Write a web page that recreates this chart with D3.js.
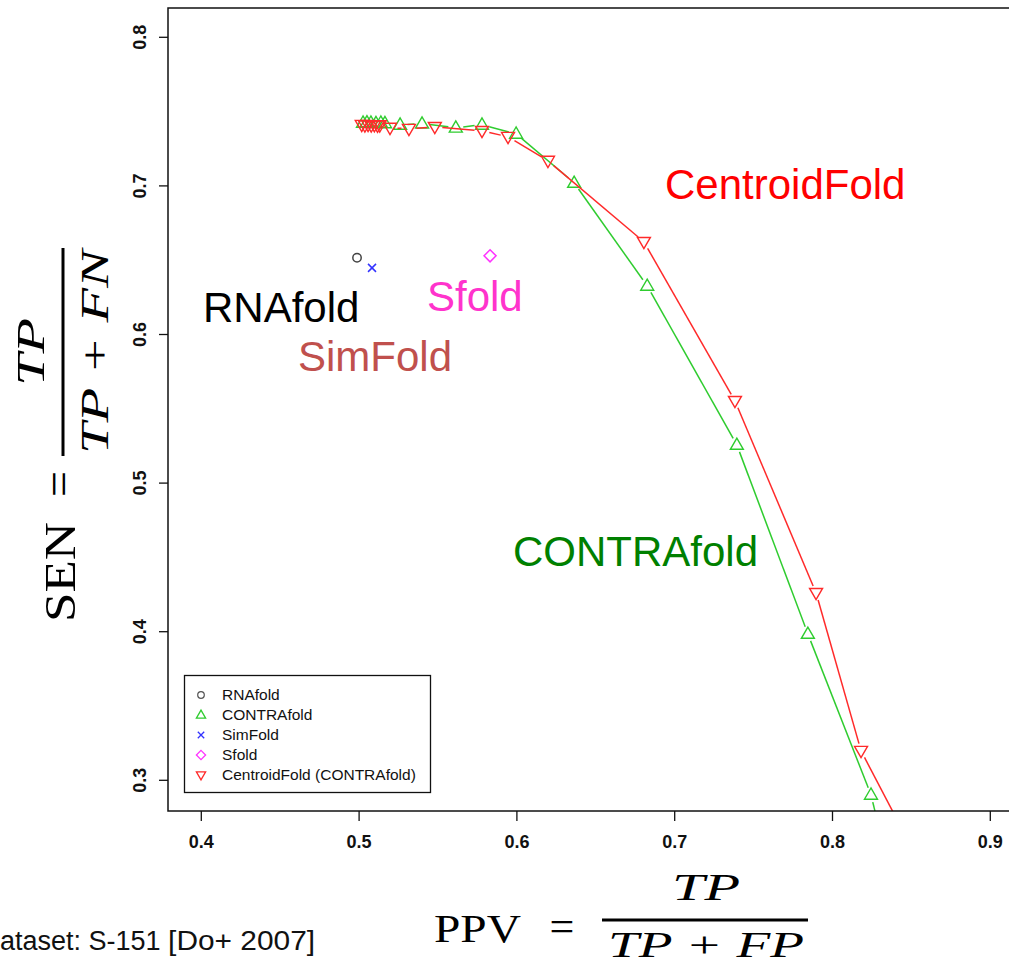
<!DOCTYPE html>
<html>
<head>
<meta charset="utf-8">
<script src="https://cdn.jsdelivr.net/npm/d3@7"></script>
<style>
  body { margin: 0; background: #fff; }
  svg { display: block; }
</style>
</head>
<body>
<div id="chart"></div>
<script>
// ticks
const xTicks = [0.4, 0.5, 0.6, 0.7, 0.8, 0.9];
const yTicks = [0.3, 0.4, 0.5, 0.6, 0.7, 0.8];

// CONTRAfold curve (PPV, SEN)
const contraPPV = [0.5028, 0.5053, 0.5078, 0.5110, 0.5141, 0.5167, 0.5263, 0.5402, 0.5616, 0.5782, 0.5998, 0.6366, 0.6829, 0.7397, 0.7847, 0.8247, 0.8440];
const contraSEN = [0.7421, 0.7424, 0.7421, 0.7419, 0.7421, 0.7418, 0.7408, 0.7415, 0.7388, 0.7408, 0.7347, 0.7017, 0.6324, 0.5254, 0.3982, 0.2899, 0.2060];

// CentroidFold (CONTRAfold) curve
const centroidPPV = [0.5020, 0.5040, 0.5060, 0.5080, 0.5100, 0.5120, 0.5134, 0.5199, 0.5319, 0.5483, 0.5782, 0.5947, 0.6200, 0.6808, 0.7385, 0.7899, 0.8184, 0.8610];
const centroidSEN = [0.7408, 0.7405, 0.7408, 0.7404, 0.7406, 0.7403, 0.7405, 0.7388, 0.7381, 0.7394, 0.7367, 0.7327, 0.7166, 0.6620, 0.5550, 0.4258, 0.3195, 0.2330];

// single tools
const singleNames = ["RNAfold", "SimFold", "Sfold"];
const singlePPV = [0.499, 0.5085, 0.5833];
const singleSEN = [0.6513, 0.6445, 0.6526];

const legendLabels = ["RNAfold", "CONTRAfold", "SimFold", "Sfold", "CentroidFold (CONTRAfold)"];

const W = 1009, H = 966;
const box = { left: 168, top: 8, right: 1016, bottom: 811 };

const svg = d3.select("#chart").append("svg")
    .attr("width", W)
    .attr("height", H);

const x = d3.scaleLinear().domain([0.4, 0.9]).range([200.8, 989.8]);
const y = d3.scaleLinear().domain([0.3, 0.8]).range([779.8, 36.8]);

const GREEN = "#2fcc2f", RED = "#ff2a2a", BLUE = "#3333ff", MAGENTA = "#ff33ff";

// marker shapes
function triUp(s) { return `M0,${-s * 1.05}L${-s},${s * 0.68}L${s},${s * 0.68}Z`; }
function triDown(s) { return `M0,${s * 1.05}L${-s},${-s * 0.68}L${s},${-s * 0.68}Z`; }
function diamond(s) { return `M0,${-s}L${s},0L0,${s}L${-s},0Z`; }
function cross(s) { return `M${-s},${-s}L${s},${s}M${-s},${s}L${s},${-s}`; }

svg.append("clipPath").attr("id", "plotclip")
    .append("rect")
    .attr("x", box.left).attr("y", box.top)
    .attr("width", box.right - box.left).attr("height", box.bottom - box.top);

const plot = svg.append("g").attr("clip-path", "url(#plotclip)");

// R type="b": segments with gaps round every point
function drawSeries(px, py, color, shape) {
    const pts = px.map((v, i) => [x(v), y(py[i])]);
    const gap = 7.5;
    const segs = [];
    for (let i = 0; i < pts.length - 1; i++) {
        const [x0, y0] = pts[i], [x1, y1] = pts[i + 1];
        const len = Math.hypot(x1 - x0, y1 - y0);
        if (len <= 2 * gap) continue;
        const ux = (x1 - x0) / len, uy = (y1 - y0) / len;
        segs.push([[x0 + ux * gap, y0 + uy * gap], [x1 - ux * gap, y1 - uy * gap]]);
    }
    plot.selectAll(null)
        .data(segs)
        .enter().append("path")
        .attr("d", d => d3.line()(d))
        .attr("fill", "none")
        .attr("stroke", color)
        .attr("stroke-width", 1.5);

    plot.selectAll(null)
        .data(pts)
        .enter().append("path")
        .attr("transform", d => `translate(${d[0]},${d[1]})`)
        .attr("d", shape(6.5))
        .attr("fill", "none")
        .attr("stroke", color)
        .attr("stroke-width", 1.4);
}

drawSeries(contraPPV, contraSEN, GREEN, triUp);
drawSeries(centroidPPV, centroidSEN, RED, triDown);

// single points
plot.append("circle")
    .attr("cx", x(singlePPV[0])).attr("cy", y(singleSEN[0]))
    .attr("r", 4.2)
    .attr("fill", "none").attr("stroke", "#444").attr("stroke-width", 1.5);
plot.append("path")
    .attr("transform", `translate(${x(singlePPV[1])},${y(singleSEN[1])})`)
    .attr("d", cross(4))
    .attr("stroke", BLUE).attr("stroke-width", 1.5);
plot.append("path")
    .attr("transform", `translate(${x(singlePPV[2])},${y(singleSEN[2])})`)
    .attr("d", diamond(6))
    .attr("fill", "none").attr("stroke", MAGENTA).attr("stroke-width", 1.5);

// box
svg.append("rect")
    .attr("x", box.left).attr("y", box.top)
    .attr("width", box.right - box.left).attr("height", box.bottom - box.top)
    .attr("fill", "none").attr("stroke", "#111").attr("stroke-width", 1.5);

// axes
const tickFont = "'Liberation Sans', Arial, sans-serif";
const xAxis = svg.append("g")
    .attr("transform", `translate(0,${box.bottom})`)
    .call(d3.axisBottom(x).tickValues(xTicks).tickSize(10).tickPadding(14).tickFormat(d3.format(".1f")));
xAxis.select(".domain").remove();
xAxis.selectAll("line").attr("stroke", "#111").attr("stroke-width", 1.3);
xAxis.selectAll("text")
    .attr("fill", "#111")
    .style("font-family", tickFont)
    .style("font-size", "18px").style("font-weight", "bold");

const yAxis = svg.append("g")
    .attr("transform", `translate(${box.left},0)`)
    .call(d3.axisLeft(y).tickValues(yTicks).tickSize(9).tickFormat(d3.format(".1f")));
yAxis.select(".domain").remove();
yAxis.selectAll("line").attr("stroke", "#111").attr("stroke-width", 1.3);
yAxis.selectAll("text")
    .attr("x", null).attr("dy", null)
    .attr("text-anchor", "middle")
    .attr("transform", "translate(-22,0) rotate(-90)")
    .attr("fill", "#111")
    .style("font-family", tickFont)
    .style("font-size", "18px").style("font-weight", "bold");

// big labels in the plot
const labelFont = "'Liberation Sans', Arial, sans-serif";
const bigLabels = [
    { t: "CentroidFold", x: 665, y: 199, c: "#ff0000" },
    { t: "CONTRAfold", x: 513, y: 566, c: "#008000" },
    { t: "RNAfold", x: 203, y: 322, c: "#000000" },
    { t: "SimFold", x: 298, y: 371, c: "#c0504d" },
    { t: "Sfold", x: 427, y: 311, c: "#ff33cc" }
];
svg.selectAll(".biglabel")
    .data(bigLabels)
    .enter().append("text")
    .attr("class", "biglabel")
    .attr("x", d => d.x).attr("y", d => d.y)
    .attr("fill", d => d.c)
    .style("font-family", labelFont)
    .style("font-size", "42px")
    .text(d => d.t);

// legend
const legend = svg.append("g");
legend.append("rect")
    .attr("x", 184.5).attr("y", 675.5).attr("width", 246).attr("height", 117)
    .attr("fill", "#fff").attr("stroke", "#111").attr("stroke-width", 1.3);
const legendShapes = [
    { d: null, c: "#555" },
    { d: triUp(4.6), c: GREEN },
    { d: cross(3.2), c: BLUE },
    { d: diamond(4.6), c: MAGENTA },
    { d: triDown(4.6), c: RED }
];
const rows = legend.selectAll(".row")
    .data(legendLabels)
    .enter().append("g")
    .attr("transform", (d, i) => `translate(201,${695 + i * 20})`);
rows.each(function (d, i) {
    const g = d3.select(this);
    if (i === 0) {
        g.append("circle").attr("r", 3.3).attr("fill", "none").attr("stroke", "#555").attr("stroke-width", 1.2);
    } else {
        g.append("path").attr("d", legendShapes[i].d).attr("fill", "none")
            .attr("stroke", legendShapes[i].c).attr("stroke-width", 1.3);
    }
});
rows.append("text")
    .attr("x", 21).attr("dy", "0.35em")
    .attr("fill", "#111")
    .style("font-family", labelFont)
    .style("font-size", "15.5px")
    .text(d => d);

// axis titles (math style)
const serif = "'Liberation Serif', 'Times New Roman', serif";

// x title: PPV = TP / (TP + FP)
const xt = svg.append("g").style("font-family", serif).attr("fill", "#000");
xt.append("text").attr("x", 434).attr("y", 942).attr("textLength", 87).attr("lengthAdjust", "spacingAndGlyphs")
    .style("font-size", "41px").text("PPV");
xt.append("text").attr("x", 562).attr("y", 941).attr("text-anchor", "middle")
    .style("font-size", "44px").text("=");
xt.append("line").attr("x1", 602).attr("x2", 808).attr("y1", 920).attr("y2", 920)
    .attr("stroke", "#000").attr("stroke-width", 3);
xt.append("text").attr("x", 706).attr("y", 900).attr("text-anchor", "middle")
    .attr("textLength", 68).attr("lengthAdjust", "spacingAndGlyphs")
    .style("font-size", "38px").style("font-style", "italic").text("TP");
xt.append("text").attr("x", 706).attr("y", 957).attr("text-anchor", "middle")
    .attr("textLength", 196).attr("lengthAdjust", "spacingAndGlyphs")
    .style("font-size", "36px").style("font-style", "italic").text("TP + FP");

// y title: SEN = TP / (TP + FN), rotated
const yt = svg.append("g").style("font-family", serif).attr("fill", "#000");
yt.append("text").attr("transform", "translate(75,572) rotate(-90)").attr("text-anchor", "middle")
    .attr("textLength", 100).attr("lengthAdjust", "spacingAndGlyphs")
    .style("font-size", "44px").text("SEN");
yt.append("text").attr("transform", "translate(74,484) rotate(-90)").attr("text-anchor", "middle")
    .style("font-size", "46px").text("=");
yt.append("line").attr("x1", 63).attr("x2", 63).attr("y1", 248).attr("y2", 456)
    .attr("stroke", "#000").attr("stroke-width", 3);
yt.append("text").attr("transform", "translate(44,352) rotate(-90)").attr("text-anchor", "middle")
    .attr("textLength", 68).attr("lengthAdjust", "spacingAndGlyphs")
    .style("font-size", "40px").style("font-style", "italic").text("TP");
yt.append("text").attr("transform", "translate(108,352) rotate(-90)").attr("text-anchor", "middle")
    .attr("textLength", 204).attr("lengthAdjust", "spacingAndGlyphs")
    .style("font-size", "40px").style("font-style", "italic").text("TP + FN");

// dataset note, cut at the left edge in the original
const note = svg.append("text").attr("x", 0).attr("y", 950).attr("fill", "#111");
note.append("tspan").style("font-family", labelFont).style("font-size", "27px").text("ataset: S-151 ");
note.append("tspan").style("font-family", labelFont).style("font-size", "27px")
    .attr("textLength", 147).attr("lengthAdjust", "spacingAndGlyphs").text("[Do+ 2007]");
</script>
</body>
</html>
